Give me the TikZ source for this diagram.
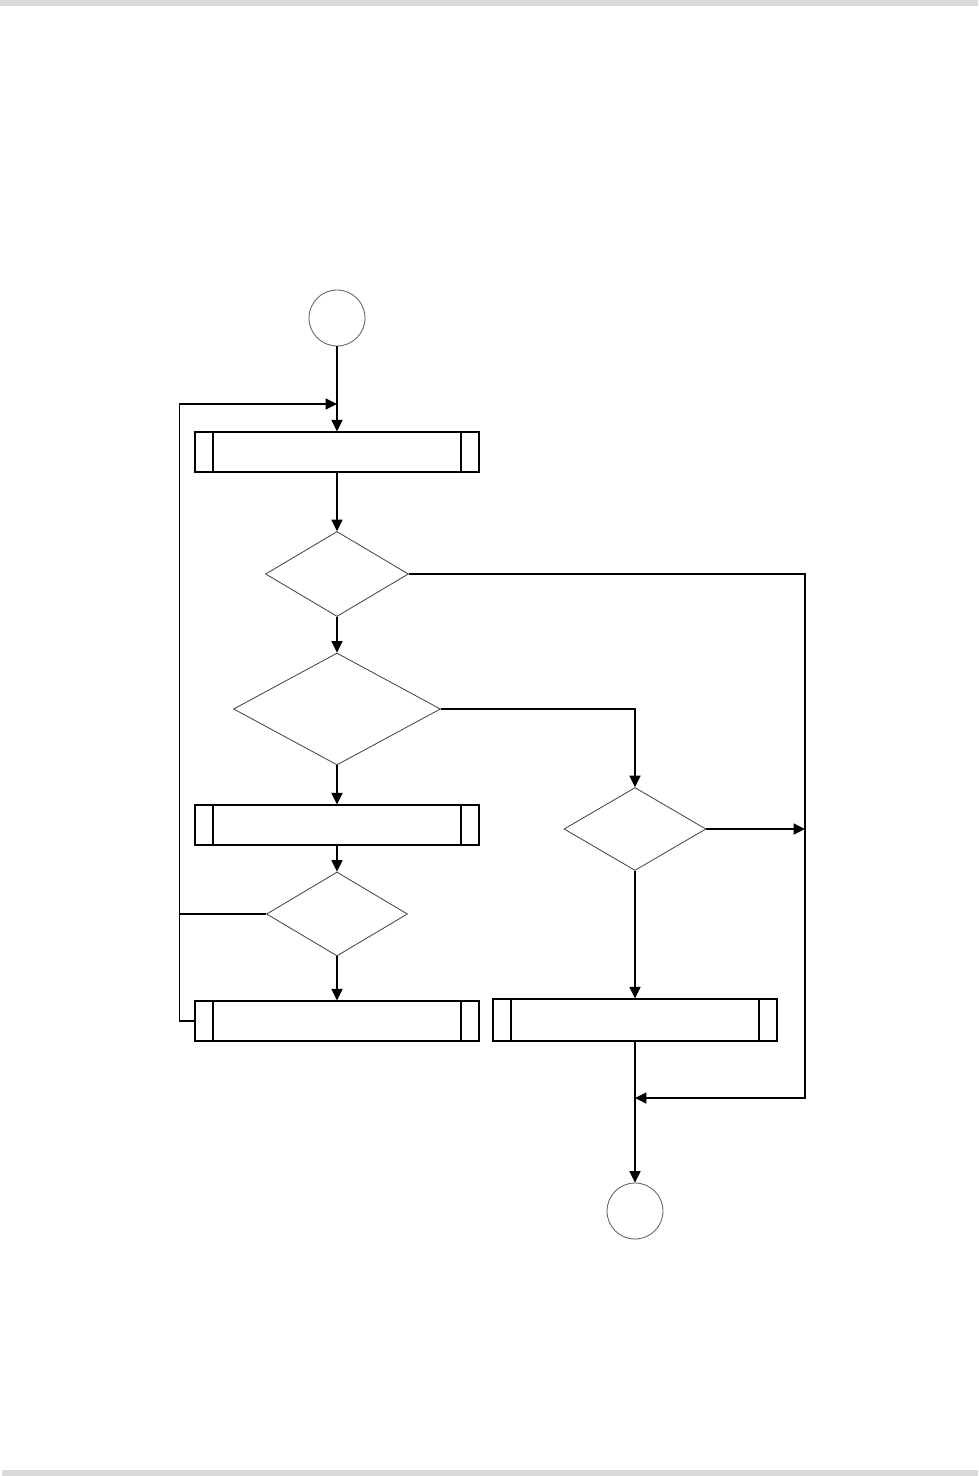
\documentclass[tikz,border=0pt]{standalone}
\usepackage{tikz}
\usetikzlibrary{shapes.geometric,arrows.meta}

\tikzset{
  procbox/.style={draw=black,line width=0.75pt,rectangle,inner sep=0pt,minimum width=5.68cm,minimum height=0.8cm,
    path picture={\draw[line width=0.75pt] ([xshift=0.36cm]path picture bounding box.north west) -- ([xshift=0.36cm]path picture bounding box.south west);
      \draw[line width=0.75pt] ([xshift=-0.36cm]path picture bounding box.north east) -- ([xshift=-0.36cm]path picture bounding box.south east);}},
  decision/.style={draw=black!70,line width=0.5pt,diamond,inner sep=0pt},
  terminal/.style={draw=black!60,line width=0.5pt,circle,inner sep=0pt,minimum size=1.12cm},
  link/.style={draw=black,line width=0.75pt},
  flow/.style={link,-{Triangle[length=6.5pt,width=6.3pt]}}
}

\begin{document}
\begin{tikzpicture}[x=0.02cm,y=-0.02cm]
\useasboundingbox (0,0) rectangle (978,1476);
\fill[black!15] (0,0) rectangle (978,6);
\fill[black!15] (2,1470) rectangle (978,1476);
\node[terminal] (start) at (337,318) {};
\node[procbox] (box1) at (337,452) {};
\node[decision,minimum width=2.86cm,minimum height=1.7cm] (dec1) at (337,574) {};
\node[decision,minimum width=4.14cm,minimum height=2.24cm] (dec2) at (337,709) {};
\node[procbox] (box2) at (337,825) {};
\node[decision,minimum width=2.82cm,minimum height=1.68cm] (dec4) at (337,914) {};
\node[procbox] (box3) at (337,1021) {};
\node[decision,minimum width=2.84cm,minimum height=1.66cm] (dec3) at (635,829) {};
\node[procbox,minimum height=0.84cm] (box4) at (635,1020) {};
\node[terminal] (stop) at (635,1211) {};
\coordinate (jtop) at (337,404);
\coordinate (jbot) at (635,1098);
\coordinate (rail) at (805,1098);
\draw[flow] (start) -- (box1);
\draw[flow] (box3.west) -- ++(-15,0) |- (jtop);
\draw[link] (dec4.west) -- ++(-86,0);
\draw[flow] (box1) -- (dec1);
\draw[flow] (dec1) -- (dec2);
\draw[flow] (dec2) -- (box2);
\draw[flow] (box2) -- (dec4);
\draw[flow] (dec4) -- (box3);
\draw[flow] (dec2.east) -| (dec3.north);
\draw[flow] (dec1.east) -| (rail) -- (jbot);
\draw[flow] (dec3.east) -- (dec3.east -| rail);
\draw[flow] (dec3) -- (box4);
\draw[flow] (box4) -- (stop);
\end{tikzpicture}
\end{document}
